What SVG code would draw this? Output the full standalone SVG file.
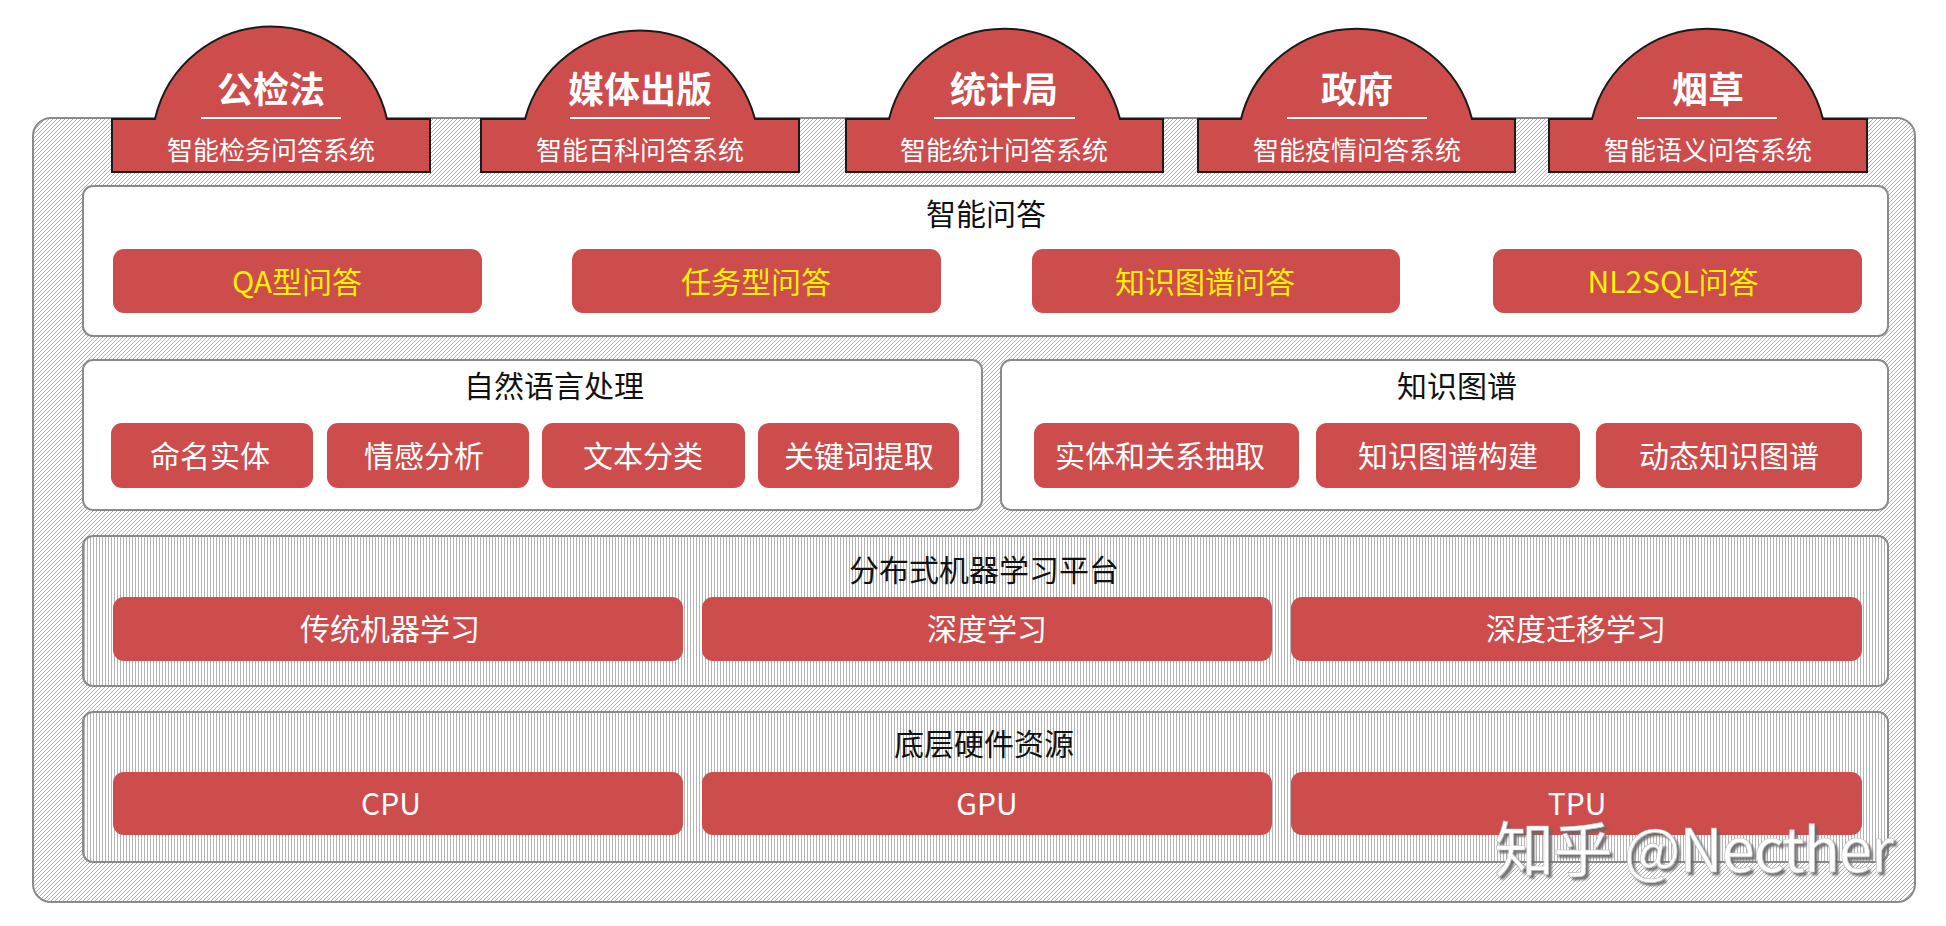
<svg xmlns="http://www.w3.org/2000/svg" width="1946" height="926" viewBox="0 0 1946 926">
<defs>
<pattern id="diag" patternUnits="userSpaceOnUse" width="4" height="4">
<rect width="4" height="4" fill="#fff"/>
<path d="M-1,1 l2,-2 M0,4 l4,-4 M3,5 l2,-2" stroke="#a8a8a8" stroke-width="0.9"/>
</pattern>
<pattern id="vert" patternUnits="userSpaceOnUse" width="3" height="3">
<rect width="3" height="3" fill="#fff"/>
<rect x="0" y="0" width="1" height="3" fill="#b4b4b4"/>
</pattern>
<filter id="shadow" x="-5%" y="-20%" width="110%" height="140%">
<feDropShadow dx="3" dy="3" stdDeviation="0.8" flood-color="#666" flood-opacity="0.9"/>
</filter>
<style>
.panel{stroke:#8a8a8a;stroke-width:2}
.white{fill:#fff}
.hatchv{fill:url(#vert)}
.btn{fill:#CD4C4C}
.tab{fill:#CD4C4C;stroke:#1a1a1a;stroke-width:2;stroke-linejoin:miter}
.t{font-family:"Noto Sans CJK SC","Microsoft YaHei",sans-serif;text-anchor:middle}
.ttl{font-size:36px;font-weight:bold;fill:#fff}
.sub{font-size:26px;fill:#fff}
.ptitle{font-size:30px;fill:#111}
.bt{font-size:30px;fill:#fff}
.by{font-size:30px;fill:#FFF200}
.uline{stroke:#fff;stroke-width:2}
.wm{font-family:"Noto Sans CJK SC",sans-serif;font-size:60px;fill:#fff;stroke:#bbb;stroke-width:0.6}
</style>
</defs>

<g id="container">
<rect x="33" y="118" width="1882" height="784" rx="18" fill="url(#diag)" stroke="#8a8a8a" stroke-width="2"/>
</g>

<g id="tab-gongjianfa">
<path class="tab" d="M112,172 V119 H155 A119,119 0 0 1 387,119 H430 V172 Z"/>
<line class="uline" x1="201" y1="118" x2="341" y2="118"/>
<text class="t ttl" x="271" y="103">公检法</text>
<text class="t sub" x="271" y="160">智能检务问答系统</text>
</g>
<g id="tab-meiti">
<path class="tab" d="M481,172 V119 H525 A119,119 0 0 1 755,119 H799 V172 Z"/>
<line class="uline" x1="570" y1="118" x2="710" y2="118"/>
<text class="t ttl" x="640" y="103">媒体出版</text>
<text class="t sub" x="640" y="160">智能百科问答系统</text>
</g>
<g id="tab-tongji">
<path class="tab" d="M846,172 V119 H889 A119,119 0 0 1 1120,119 H1163 V172 Z"/>
<line class="uline" x1="934" y1="118" x2="1075" y2="118"/>
<text class="t ttl" x="1004" y="103">统计局</text>
<text class="t sub" x="1004" y="160">智能统计问答系统</text>
</g>
<g id="tab-zhengfu">
<path class="tab" d="M1198,172 V119 H1241 A119,119 0 0 1 1472,119 H1515 V172 Z"/>
<line class="uline" x1="1287" y1="118" x2="1427" y2="118"/>
<text class="t ttl" x="1357" y="103">政府</text>
<text class="t sub" x="1357" y="160">智能疫情问答系统</text>
</g>
<g id="tab-yancao">
<path class="tab" d="M1549,172 V119 H1592 A119,119 0 0 1 1823,119 H1867 V172 Z"/>
<line class="uline" x1="1637" y1="118" x2="1777" y2="118"/>
<text class="t ttl" x="1708" y="103">烟草</text>
<text class="t sub" x="1708" y="160">智能语义问答系统</text>
</g>

<g id="panel-qa">
<rect class="panel white" x="83" y="186" width="1805" height="150" rx="10"/>
<text class="t ptitle" x="986" y="225">智能问答</text>
<rect class="btn" x="113" y="249" width="369" height="64" rx="11"/>
<text class="t by" x="297" y="293">QA型问答</text>
<rect class="btn" x="572" y="249" width="369" height="64" rx="11"/>
<text class="t by" x="756" y="293">任务型问答</text>
<rect class="btn" x="1032" y="249" width="368" height="64" rx="11"/>
<text class="t by" x="1205" y="293">知识图谱问答</text>
<rect class="btn" x="1493" y="249" width="369" height="64" rx="11"/>
<text class="t by" x="1673" y="293">NL2SQL问答</text>
</g>

<g id="panel-nlp">
<rect class="panel white" x="83" y="360" width="899" height="150" rx="10"/>
<text class="t ptitle" x="554" y="397">自然语言处理</text>
<rect class="btn" x="111" y="423" width="202" height="65" rx="11"/>
<text class="t bt" x="210" y="467">命名实体</text>
<rect class="btn" x="327" y="423" width="202" height="65" rx="11"/>
<text class="t bt" x="424" y="467">情感分析</text>
<rect class="btn" x="542" y="423" width="203" height="65" rx="11"/>
<text class="t bt" x="643" y="467">文本分类</text>
<rect class="btn" x="758" y="423" width="201" height="65" rx="11"/>
<text class="t bt" x="859" y="467">关键词提取</text>
</g>

<g id="panel-kg">
<rect class="panel white" x="1001" y="360" width="887" height="150" rx="10"/>
<text class="t ptitle" x="1457" y="397">知识图谱</text>
<rect class="btn" x="1034" y="423" width="265" height="65" rx="11"/>
<text class="t bt" x="1160" y="467">实体和关系抽取</text>
<rect class="btn" x="1316" y="423" width="264" height="65" rx="11"/>
<text class="t bt" x="1448" y="467">知识图谱构建</text>
<rect class="btn" x="1596" y="423" width="266" height="65" rx="11"/>
<text class="t bt" x="1729" y="467">动态知识图谱</text>
</g>

<g id="panel-ml">
<rect class="panel hatchv" x="83" y="536" width="1805" height="150" rx="10"/>
<text class="t ptitle" x="984" y="581">分布式机器学习平台</text>
<rect class="btn" x="113" y="597" width="570" height="64" rx="11"/>
<text class="t bt" x="390" y="640">传统机器学习</text>
<rect class="btn" x="702" y="597" width="570" height="64" rx="11"/>
<text class="t bt" x="987" y="640">深度学习</text>
<rect class="btn" x="1291" y="597" width="571" height="64" rx="11"/>
<text class="t bt" x="1576" y="640">深度迁移学习</text>
</g>

<g id="panel-hw">
<rect class="panel hatchv" x="83" y="712" width="1805" height="150" rx="10"/>
<text class="t ptitle" x="984" y="755">底层硬件资源</text>
<rect class="btn" x="113" y="772" width="570" height="63" rx="11"/>
<text class="t bt" x="391" y="815">CPU</text>
<rect class="btn" x="702" y="772" width="570" height="63" rx="11"/>
<text class="t bt" x="987" y="815">GPU</text>
<rect class="btn" x="1291" y="772" width="571" height="63" rx="11"/>
<text class="t bt" x="1577" y="815">TPU</text>
</g>

<g id="connectors"></g>

<g id="watermark">
<text class="wm" x="1494" y="872" filter="url(#shadow)" textLength="400" lengthAdjust="spacing">知乎 @Necther</text>
</g>
</svg>
